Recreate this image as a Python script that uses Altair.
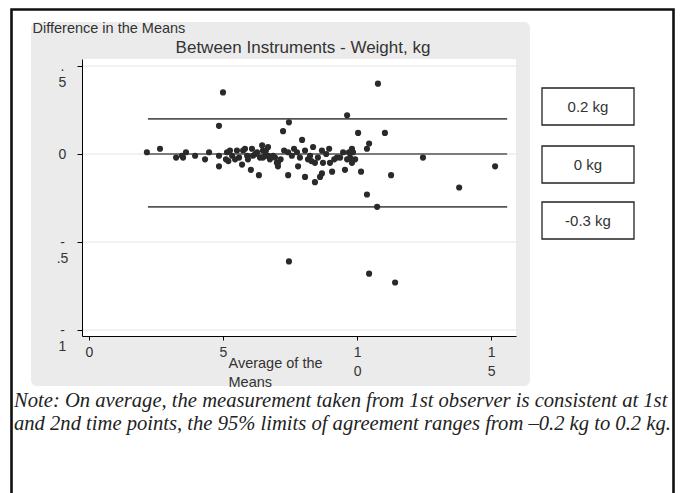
import altair as alt
import pandas as pd

# ---- data ----
avg_means = [2.16, 2.65, 3.25, 3.47, 3.62, 3.51, 3.96, 4.33, 4.48, 4.85, 4.85, 4.85, 5.00, 5.11,
             5.15, 5.34, 5.52, 5.60, 5.75, 5.90, 5.93, 6.08, 6.12, 6.27, 6.38, 6.49, 6.57, 6.68,
             6.75, 6.87, 7.01, 5.71, 6.04, 6.34, 6.49, 6.94, 7.05, 7.43, 7.57, 7.76, 7.87, 7.95,
             8.06, 8.17, 8.25, 8.36, 8.43, 8.54, 8.69, 8.73, 8.96, 8.99, 9.07, 9.25, 9.37, 9.48,
             9.63, 9.74, 9.85, 9.93, 9.81, 7.43, 8.06, 8.43, 8.69, 8.62, 9.55, 10.15, 10.37, 7.24,
             7.46, 9.63, 10.04, 11.04, 10.37, 10.45, 10.78, 12.46, 11.27, 13.81, 15.15, 10.75,
             7.46, 10.45, 11.42, 7.05, 7.80, 9.81, 6.68, 7.28, 5.26, 5.45, 5.82, 6.46, 5.20,
             6.20, 6.60, 7.15, 7.65, 8.30, 8.85, 9.15, 9.70]
diff_means = [0.01, 0.03, -0.02, -0.01, 0.01, -0.02, -0.01, -0.03, 0.01, -0.01, -0.07, 0.16, 0.35, -0.03,
              0.01, -0.01, 0.02, -0.02, 0.02, -0.01, -0.03, 0.03, -0.01, 0.01, -0.02, 0.02, -0.01, 0.04,
              -0.03, -0.01, -0.05, -0.06, -0.09, -0.12, -0.02, -0.02, -0.05, 0.01, -0.01, 0.01, -0.02, 0.08,
              0.02, -0.03, -0.01, 0.04, -0.05, -0.02, 0.02, -0.05, 0.03, -0.05, -0.10, -0.02, -0.02, 0.01,
              -0.03, -0.02, 0.01, -0.03, 0.03, -0.12, -0.13, -0.16, -0.11, -0.13, -0.09, -0.10, -0.23, 0.13,
              0.18, 0.22, 0.12, 0.12, 0.03, 0.06, 0.40, -0.02, -0.12, -0.19, -0.07, -0.30,
              -0.61, -0.68, -0.73, -0.07, -0.07, -0.05, -0.01, 0.02, 0.02, -0.03, 0.03, 0.05, -0.04,
              0.00, 0.02, -0.03, 0.03, -0.04, 0.00, -0.03, 0.01]

loa_values = [0.2, 0.0, -0.3]          # upper limit, mean, lower limit
loa_x_start = 2.2
loa_x_end = 15.6
box_labels = ["0.2 kg", "0 kg", "-0.3 kg"]

x_ticks = [0, 5, 10, 15]
x_tick_labels = [["0"], ["5"], ["1", "0"], ["1", "5"]]
y_ticks = [0.5, 0, -0.5, -1]
y_tick_labels = [[".", "5"], ["0"], ["-", ".5"], ["-", "1"]]

chart_title = "Between Instruments - Weight, kg"
y_title = "Difference in the Means"
x_title = ["Average of the", "Means"]
note_lines = [
    "Note: On average, the measurement taken from 1st observer is consistent at 1st",
    "and 2nd time points, the 95% limits of agreement ranges from \u20130.2 kg to 0.2 kg.",
]

# ---- layout (pixels) ----
W, H = 434, 277
PAD = {"left": 82, "top": 59, "right": 680 - 82 - W, "bottom": 493 - 59 - H}
FONT = "Liberation Sans"
TXT = "#333333"


def label_expr(values, labels):
    parts = []
    for v, lab in zip(values, labels):
        arr = "[" + ",".join("'%s'" % s for s in lab) + "]"
        parts.append("abs(datum.value - (%s)) < 1e-6 ? %s : " % (v, arr))
    return "".join(parts) + "''"


one = alt.Data(values=[{}])

pts = pd.DataFrame({"avg": avg_means, "diff": diff_means})
loa = pd.DataFrame({"diff": loa_values, "avg": [loa_x_start] * 3, "avg_end": [loa_x_end] * 3})
grid = pd.DataFrame({"diff": y_ticks})

xscale = alt.Scale(domain=[-0.26, 15.93], nice=False, zero=False)
yscale = alt.Scale(domain=[-1.034, 0.54], nice=False, zero=False)

x_axis = alt.Axis(values=x_ticks, labelExpr=label_expr(x_ticks, x_tick_labels), tickSize=4,
                  labelPadding=5, labelBaseline="top", labelAlign="center", labelLineHeight=19,
                  labelFont=FONT, labelFontSize=14, labelColor=TXT, domainColor="black",
                  tickColor="black", grid=False, zindex=1, labelOverlap=False, labelFlush=False,
                  title=x_title, titleX=146, titleY=20, titleAlign="left", titleBaseline="top",
                  titleFont=FONT, titleFontSize=14.5, titleFontWeight="normal", titleColor=TXT,
                  titleLineHeight=19)
y_axis = alt.Axis(values=y_ticks, labelExpr=label_expr(y_ticks, y_tick_labels), tickSize=5,
                  labelPadding=15, labelAlign="center", labelBaseline="top", labelOffset=-7,
                  labelLineHeight=16, labelFont=FONT, labelFontSize=14, labelColor=TXT,
                  domainColor="black", tickColor="black", grid=False, zindex=1,
                  labelOverlap=False, labelFlush=False,
                  title=y_title, titleX=-50, titleY=-31, titleAngle=0, titleAlign="left",
                  titleBaseline="middle", titleFont=FONT, titleFontSize=14.5,
                  titleFontWeight="normal", titleColor=TXT)

X = alt.X("avg:Q", scale=xscale, axis=x_axis)
Y = alt.Y("diff:Q", scale=yscale, axis=y_axis)

panel = alt.Chart(one).mark_rect(color="#ebebeb", cornerRadius=6).encode(
    x=alt.value(-51), x2=alt.value(448), y=alt.value(-37), y2=alt.value(327))
plot_bg = alt.Chart(one).mark_rect(color="white").encode(
    x=alt.value(0), x2=alt.value(W), y=alt.value(0), y2=alt.value(H))
gridlines = alt.Chart(grid).mark_rule(color="#e4e4e4", strokeWidth=1).encode(y=Y)
loa_lines = alt.Chart(loa).mark_rule(color="#555555", strokeWidth=1.6).encode(
    x=X, x2="avg_end:Q", y=Y)
points = alt.Chart(pts).mark_circle(size=38, color="#2a2a2a", opacity=1).encode(x=X, y=Y)
title = alt.Chart(one).mark_text(font=FONT, fontSize=17, color=TXT, align="center",
                                 baseline="middle").encode(
    x=alt.value(221), y=alt.value(-11), text=alt.value(chart_title))

layers = [panel, plot_bg, gridlines, loa_lines, points, title]

box_mid_y = [47.5, 105.5, 161.5]
for lab, cy in zip(box_labels, box_mid_y):
    layers.append(alt.Chart(one).mark_rect(fill="white", stroke="#222222", strokeWidth=1.3).encode(
        x=alt.value(460), x2=alt.value(552), y=alt.value(cy - 18.5), y2=alt.value(cy + 18.5)))
    layers.append(alt.Chart(one).mark_text(font=FONT, fontSize=15, color=TXT, align="center",
                                           baseline="middle").encode(
        x=alt.value(506), y=alt.value(cy), text=alt.value(lab)))

note = alt.Chart(one).mark_text(font="Liberation Serif", fontStyle="italic", fontSize=20.6,
                                color="#222222", align="left", baseline="middle",
                                lineHeight=23).encode(
    x=alt.value(-68), y=alt.value(342), text=alt.value(note_lines))
cover = alt.Chart(one).mark_rect(color="white").encode(
    x=alt.value(592), x2=alt.value(640), y=alt.value(-60), y2=alt.value(480))
frame = alt.Chart(one).mark_rect(fill=None, fillOpacity=0, stroke="#111111", strokeWidth=2.6).encode(
    x=alt.value(-70.5), x2=alt.value(591.5), y=alt.value(-49.5), y2=alt.value(470))
layers += [note, cover, frame]

chart = alt.layer(*layers).properties(
    width=W, height=H, padding=PAD, autosize=alt.AutoSizeParams(type="none"),
    background="white"
).configure_view(stroke=None)

chart.save("out.html", embed_options={"renderer": "svg", "actions": False})
